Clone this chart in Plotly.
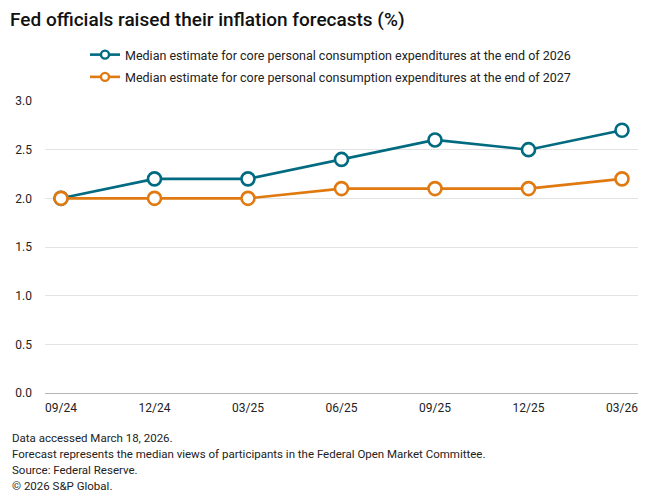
import plotly.graph_objects as go

categories = ["09/24", "12/24", "03/25", "06/25", "09/25", "12/25", "03/26"]
pce_2026 = [2.0, 2.2, 2.2, 2.4, 2.6, 2.5, 2.7]
pce_2027 = [2.0, 2.0, 2.0, 2.1, 2.1, 2.1, 2.2]
series_names = [
    "Median estimate for core personal consumption expenditures at the end of 2026",
    "Median estimate for core personal consumption expenditures at the end of 2027",
]
y_ticks = [0.0, 0.5, 1.0, 1.5, 2.0, 2.5, 3.0]
footer_lines = [
    "Data accessed March 18, 2026.",
    "Forecast represents the median views of participants in the Federal Open Market Committee.",
    "Source: Federal Reserve.",
    "\u00a9 2026 S&P Global.",
]

TEAL = "#006b80"
ORANGE = "#e07a10"
FONT = "Roboto"

W, H = 660, 501
L, R, T, B = 45, 22, 101, 108
PH = H - T - B
PW = W - L - R

x_idx = list(range(len(categories)))

fig = go.Figure()
series = [(series_names[0], pce_2026, TEAL, "a"), (series_names[1], pce_2027, ORANGE, "b")]
for name, vals, col, grp in series:
    fig.add_trace(go.Scatter(
        x=x_idx, y=vals, name=name, mode="lines+markers", legendgroup=grp, showlegend=False,
        line=dict(color=col, width=2.6),
        marker=dict(symbol="circle", size=13, color="white", line=dict(color=col, width=2.6)),
        hoverinfo="skip",
    ))
# legend entries (smaller markers, as in the reference)
for name, vals, col, grp in series:
    fig.add_trace(go.Scatter(
        x=[None], y=[None], name=name, mode="lines+markers", legendgroup=grp, showlegend=True,
        line=dict(color=col, width=2.6),
        marker=dict(symbol="circle", size=8, color="white", line=dict(color=col, width=2.4)),
        hoverinfo="skip",
    ))

pad = 16 / ((PW - 32) / 6)
fig.update_xaxes(
    range=[-pad, 6 + pad], tickmode="array", tickvals=x_idx, ticktext=categories,
    showgrid=False, zeroline=False, showline=False, ticks="", ticklabelstandoff=6,
    tickfont=dict(family=FONT, size=12, color="#222"), fixedrange=True,
)
fig.update_yaxes(
    range=[0, 3], tickmode="array", tickvals=y_ticks, ticktext=[f"{v:.1f}" for v in y_ticks],
    showgrid=True, gridcolor="#e3e3e3", gridwidth=1, zeroline=True, zerolinecolor="#b5b5b5",
    zerolinewidth=1, showline=False, ticks="", ticklabelstandoff=12,
    tickfont=dict(family=FONT, size=12, color="#222"), fixedrange=True,
)

annotations = []
for i, line in enumerate(footer_lines):
    ypx = 438 + 16 * i
    annotations.append(dict(
        text=line, xref="paper", yref="paper", x=(10 - L) / PW, y=(H - B - ypx) / PH,
        xanchor="left", yanchor="middle", showarrow=False, align="left",
        font=dict(family=FONT, size=11.5, color="#222"),
    ))

fig.update_layout(
    width=W, height=H, margin=dict(l=L, r=R, t=T, b=B),
    paper_bgcolor="white", plot_bgcolor="white",
    title=dict(
        text="Fed officials raised their inflation forecasts (%)",
        x=10 / W, xref="container", xanchor="left", y=1 - 19 / H, yref="container", yanchor="middle",
        font=dict(family=FONT, size=19, color="#111", weight=500),
    ),
    legend=dict(
        orientation="v", x=(85 - L) / PW, xref="paper", xanchor="left",
        y=1 + (101 - 40) / PH, yanchor="top", traceorder="grouped", tracegroupgap=3,
        font=dict(family=FONT, size=12.5, color="#222"), bgcolor="rgba(0,0,0,0)",
    ),
    annotations=annotations,
    showlegend=True,
)

fig.write_html("out.html", config={"displayModeBar": False},
               post_script="document.body.style.margin='0';")
